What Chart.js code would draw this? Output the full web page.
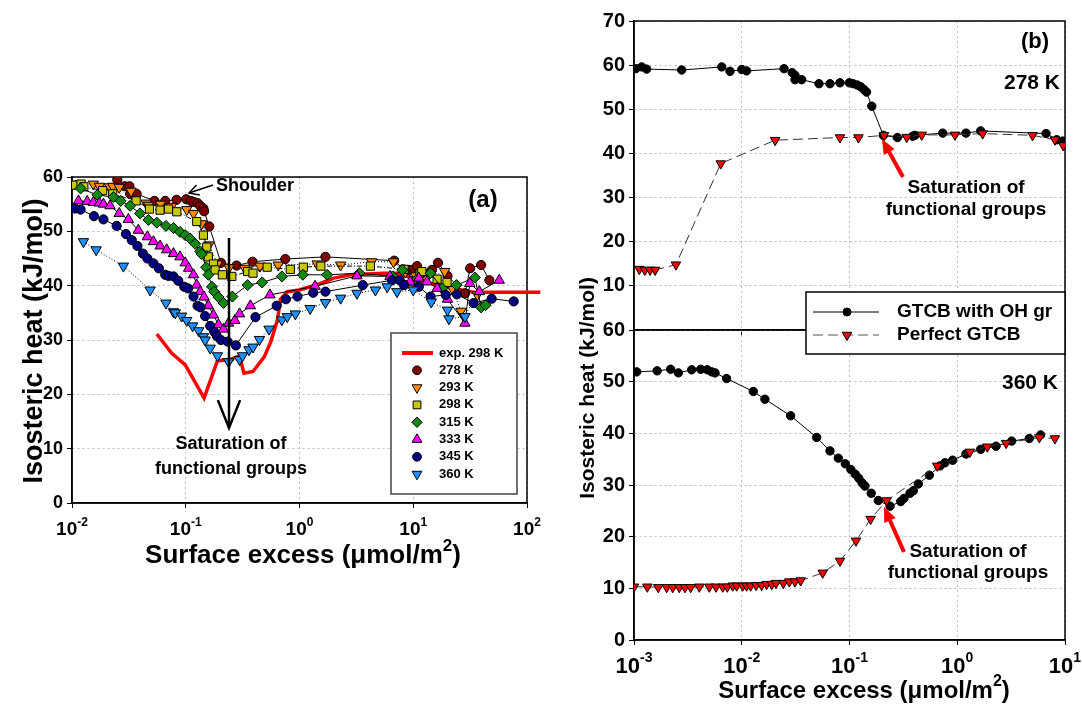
<!DOCTYPE html>
<html>
<head>
<meta charset="utf-8">
<title>Isosteric heat vs surface excess</title>
<script src="https://cdn.jsdelivr.net/npm/chart.js@4.4.1/dist/chart.umd.min.js"></script>
<style>
  body { margin: 0; background: #fff; }
  #wrap { position: relative; width: 1082px; height: 705px; overflow: hidden; }
  canvas { position: absolute; left: 0; top: 0; }
</style>
</head>
<body>
<div id="wrap">
  <canvas id="chartA" width="1082" height="705"></canvas>
  <canvas id="chartB1" width="1082" height="705"></canvas>
  <canvas id="chartB2" width="1082" height="705"></canvas>
</div>
<script>
// Panel (a): surface excess (umol/m2), isosteric heat (kJ/mol)
var exp298 = [[0.0557, 31.1], [0.075, 27.6], [0.099, 25.4], [0.145, 19.3], [0.19, 26.2], [0.238, 26.3], [0.296, 27.1], [0.325, 23.9], [0.39, 24.2], [0.49, 26.9], [0.56, 29.7], [0.64, 33.7], [0.68, 37.5], [0.78, 38.9], [1.0, 39.2], [1.53, 40.4], [2.0, 41.4], [2.8, 42.0], [5.5, 42.3], [7.2, 42.3], [10, 41.3], [15, 40.3], [22, 39.5], [33.9, 38.8], [131, 38.8]];
var s278 = [[0.025, 59.5], [0.029, 58.3], [0.032, 58.3], [0.0324, 56.9], [0.037, 56.9], [0.053, 55.6], [0.066, 55.6], [0.083, 55.8], [0.101, 55.9], [0.111, 55.6], [0.118, 55.4], [0.127, 55.2], [0.134, 54.7], [0.143, 54.2], [0.145, 53.7], [0.161, 50.9], [0.204, 44.2], [0.28, 43.7], [0.386, 44.4], [0.75, 44.9], [1.69, 45.3], [6.8, 44.6], [8.2, 43.0], [9.1, 42.9], [9.8, 42.9], [10.8, 43.6], [12.2, 42.4], [14.6, 42.9], [16.5, 44.2], [20, 41.8], [28.5, 38.6], [31.6, 43.2], [39.5, 43.8], [46.7, 41.0]];
var s293 = [[0.0118, 58.8], [0.0154, 58.7], [0.0174, 58.3], [0.0213, 58.2], [0.0228, 58.3], [0.026, 58.1], [0.033, 57.4], [0.0448, 55.2], [0.047, 54.8], [0.06, 55.0], [0.075, 54.6], [0.102, 54.0], [0.117, 53.3], [0.138, 51.4], [0.16, 47.5], [0.19, 44.0], [0.24, 43.3], [0.33, 43.2], [0.45, 43.6], [0.65, 43.8], [1.43, 44.0], [2.3, 43.8], [4.3, 44.4], [6.7, 44.4], [8.5, 42.5], [10.5, 41.8], [13, 41.3], [18.9, 42.6], [22, 39.5], [26.3, 35.3], [28, 34.3], [36.6, 38.3]];
var s298 = [[0.0103, 58.5], [0.012, 58.7], [0.0127, 58.2], [0.0186, 57.5], [0.0228, 56.9], [0.0366, 55.6], [0.048, 54.1], [0.0595, 53.9], [0.0705, 54.1], [0.0834, 53.6], [0.125, 51.8], [0.143, 49.3], [0.153, 47.1], [0.158, 45.3], [0.175, 44.0], [0.181, 42.9], [0.21, 42.0], [0.254, 41.7], [0.35, 42.6], [0.39, 42.3], [0.52, 43.4], [0.83, 43.0], [1.08, 43.4], [1.54, 43.6], [4.2, 43.6], [8.3, 43.0], [11.5, 42.3], [11.9, 42.6], [16.2, 41.2], [19.8, 40.6]];
var s315 = [[0.0119, 57.9], [0.0167, 56.7], [0.0231, 56.3], [0.0268, 55.6], [0.0324, 54.7], [0.0396, 53.3], [0.047, 52.1], [0.0557, 51.6], [0.067, 51.0], [0.078, 50.6], [0.089, 49.9], [0.0989, 49.3], [0.109, 48.7], [0.121, 47.7], [0.134, 46.3], [0.138, 45.8], [0.151, 43.4], [0.158, 42.0], [0.17, 39.8], [0.178, 38.9], [0.194, 37.9], [0.215, 36.8], [0.257, 38.0], [0.35, 40.1], [0.47, 40.6], [0.70, 41.7], [1.07, 42.0], [1.75, 42.0], [3.36, 42.3], [6.6, 41.7], [8.0, 42.9], [10.5, 41.0], [14.2, 42.3], [18, 39.5], [24, 40.1], [34.8, 41.5], [39.5, 36.0], [43.2, 36.4]];
var s333 = [[0.0114, 55.6], [0.0136, 55.5], [0.0154, 55.3], [0.0174, 55.2], [0.0189, 55.0], [0.0216, 54.7], [0.026, 53.3], [0.0313, 52.2], [0.0383, 50.2], [0.046, 49.0], [0.052, 48.1], [0.0595, 47.3], [0.068, 46.6], [0.078, 45.9], [0.089, 45.3], [0.0989, 44.2], [0.106, 43.2], [0.117, 42.0], [0.125, 40.1], [0.134, 38.9], [0.145, 37.9], [0.158, 36.3], [0.175, 34.6], [0.194, 32.8], [0.215, 32.0], [0.238, 33.1], [0.27, 33.6], [0.297, 34.8], [0.37, 36.3], [0.55, 38.3], [1.37, 39.9], [3.2, 41.8], [6.25, 41.7], [9.4, 40.7], [11.2, 41.4], [13.2, 40.7], [16.2, 39.5], [20, 37.5], [28.5, 33.1], [31.4, 40.4], [38.1, 38.9], [57, 41.0]];
var s345 = [[0.0106, 54.2], [0.0119, 54.0], [0.0156, 52.8], [0.0189, 52.2], [0.0247, 51.0], [0.0298, 49.5], [0.0335, 48.4], [0.0376, 47.3], [0.042, 45.9], [0.046, 45.0], [0.052, 44.1], [0.058, 43.2], [0.066, 42.0], [0.0705, 41.8], [0.078, 41.7], [0.086, 40.9], [0.097, 39.8], [0.105, 39.5], [0.117, 38.0], [0.127, 36.3], [0.135, 36.0], [0.148, 34.4], [0.164, 32.6], [0.178, 31.5], [0.188, 30.7], [0.204, 30.0], [0.234, 29.7], [0.276, 29.0], [0.41, 34.2], [0.63, 36.3], [0.76, 37.5], [0.96, 38.0], [1.32, 38.7], [1.69, 38.9], [3.6, 40.1], [6.5, 41.0], [7.6, 41.0], [8.3, 40.1], [11.2, 39.8], [14.2, 38.0], [19.3, 38.3], [24.2, 38.4], [33.9, 36.8], [48.9, 37.6], [76.4, 37.1]];
var s360 = [[0.0126, 48.1], [0.0163, 46.6], [0.0283, 43.6], [0.0486, 39.2], [0.067, 36.8], [0.078, 35.2], [0.081, 35.0], [0.092, 34.4], [0.102, 33.6], [0.115, 32.6], [0.13, 31.7], [0.143, 30.6], [0.148, 30.0], [0.164, 28.5], [0.19, 27.1], [0.238, 26.0], [0.297, 26.4], [0.316, 27.1], [0.36, 28.2], [0.39, 28.7], [0.445, 30.1], [0.54, 32.0], [0.70, 33.7], [0.78, 34.3], [0.92, 34.8], [1.24, 35.8], [1.69, 36.9], [2.3, 37.7], [3.2, 38.6], [4.65, 39.2], [5.9, 39.8], [7.2, 38.9], [10, 39.2], [14.4, 37.0], [20, 35.5], [20.6, 33.9], [28.5, 34.3]];

// Panel (b): simulation, 278 K (top) and 360 K (bottom)
var oh278 = [[0.00104, 59.2], [0.00118, 59.6], [0.00131, 59.1], [0.00277, 58.9], [0.00652, 59.6], [0.00778, 58.6], [0.01, 59.0], [0.0111, 58.7], [0.0247, 59.2], [0.0294, 58.3], [0.0312, 57.7], [0.0312, 56.7], [0.036, 56.7], [0.0521, 55.8], [0.0659, 55.8], [0.0816, 56.0], [0.0996, 56.0], [0.108, 55.8], [0.118, 55.5], [0.127, 55.1], [0.136, 54.5], [0.144, 53.9], [0.161, 50.7], [0.206, 44.1], [0.278, 43.6], [0.386, 43.9], [0.405, 44.1], [0.733, 44.6], [1.205, 44.6], [1.65, 45.1], [6.67, 44.5], [8.38, 43.1], [9.52, 42.8]];
var perfect278 = [[0.00112, 13.8], [0.00126, 13.6], [0.00141, 13.6], [0.00157, 13.6], [0.00245, 14.8], [0.00638, 37.7], [0.0204, 43.0], [0.0816, 43.6], [0.121, 43.6], [0.209, 44.1], [0.34, 43.7], [0.468, 44.2], [0.953, 44.2], [1.72, 44.5], [5.0, 44.1], [8.07, 43.1], [9.64, 41.8]];
var oh360 = [[0.00106, 51.9], [0.00164, 52.1], [0.00219, 52.4], [0.00258, 51.7], [0.00343, 52.3], [0.00416, 52.4], [0.00479, 52.3], [0.00526, 51.9], [0.00565, 51.7], [0.00724, 50.6], [0.0128, 48.1], [0.0164, 46.6], [0.0284, 43.4], [0.0496, 39.2], [0.0659, 36.6], [0.0787, 35.2], [0.0914, 34.1], [0.103, 33.0], [0.113, 32.1], [0.122, 31.3], [0.131, 30.4], [0.139, 29.8], [0.159, 28.4], [0.185, 27.0], [0.238, 25.9], [0.299, 26.8], [0.32, 27.4], [0.364, 28.4], [0.391, 28.9], [0.435, 30.2], [0.551, 31.9], [0.692, 33.7], [0.769, 34.3], [0.907, 34.8], [1.205, 36.0], [1.65, 36.9], [2.29, 37.5], [3.2, 38.5], [4.66, 39.0], [5.94, 39.7]];
var perfect360 = [[0.001, 10.3], [0.00133, 10.3], [0.00168, 10.2], [0.00201, 10.2], [0.00229, 10.2], [0.00263, 10.2], [0.00297, 10.2], [0.00336, 10.2], [0.00404, 10.3], [0.005, 10.3], [0.00577, 10.3], [0.00666, 10.3], [0.00734, 10.3], [0.00824, 10.5], [0.00898, 10.5], [0.0102, 10.5], [0.0111, 10.5], [0.0121, 10.5], [0.0136, 10.6], [0.0153, 10.6], [0.017, 10.8], [0.019, 10.8], [0.0208, 11.0], [0.0243, 11.0], [0.0276, 11.3], [0.0312, 11.3], [0.0352, 11.5], [0.0564, 13.0], [0.0816, 15.3], [0.115, 19.2], [0.157, 23.4], [0.221, 27.0], [0.653, 33.7], [1.31, 36.4], [1.9, 37.4], [2.84, 38.1], [5.78, 39.2], [8.07, 39.0]];

// Tick labels and legend labels
var decadesA = [0.01, 0.1, 1, 10, 100];
var expA = ['-2', '-1', '0', '1', '2'];
var decadesB = [0.001, 0.01, 0.1, 1, 10];
var expB = ['-3', '-2', '-1', '0', '1'];
var labelsA = ['exp. 298 K', '278 K', '293 K', '298 K', '315 K', '333 K', '345 K', '360 K'];
var labelsB = ['GTCB with OH gr', 'Perfect GTCB'];

var FONT = '"Liberation Sans", Arial, Helvetica, sans-serif';
var GRID = '#bdbdbd';

// marker look for each temperature in panel (a)
var markA = [
  { style: 'circle', rot: 0, r: 4.6, fill: '#800000', dash: [] },
  { style: 'triangle', rot: 180, r: 6, fill: '#ff8c00', dash: [1, 2] },
  { style: 'rect', rot: 0, r: 5.8, fill: '#c8c800', dash: [5, 2, 1, 2] },
  { style: 'rectRot', rot: 0, r: 5.5, fill: '#118811', dash: [] },
  { style: 'triangle', rot: 0, r: 6, fill: '#ff00ff', dash: [] },
  { style: 'circle', rot: 0, r: 4.6, fill: '#000080', dash: [] },
  { style: 'triangle', rot: 180, r: 6, fill: '#1e90ff', dash: [1, 2] }
];
var seriesA = [s278, s293, s298, s315, s333, s345, s360];

Chart.defaults.font.family = FONT;
Chart.defaults.color = '#000';

function pts(arr) {
  return arr.map(function (p) { return { x: p[0], y: p[1] }; });
}

function logAxis(min, max, decades, height) {
  return {
    type: 'logarithmic',
    min: min,
    max: max,
    afterBuildTicks: function (scale) {
      scale.ticks = decades.map(function (v) { return { value: v }; });
    },
    afterFit: function (scale) { scale.height = height; },
    ticks: { display: false },
    grid: { color: GRID, lineWidth: 1, tickColor: '#000', tickLength: 5, tickBorderDash: [] },
    border: { color: '#000', width: 1.5, dash: [2, 3] }
  };
}

function linAxis(min, max, width, size, hideZero) {
  return {
    min: min,
    max: max,
    afterFit: function (scale) { scale.width = width; },
    ticks: {
      stepSize: 10,
      padding: 4,
      color: '#000',
      font: { size: size, weight: 'bold' },
      callback: function (v) { return hideZero && v === 0 ? '' : v; }
    },
    grid: { color: GRID, lineWidth: 1, tickColor: '#000', tickLength: 5, tickBorderDash: [] },
    border: { color: '#000', width: 1.5, dash: [2, 3] }
  };
}

// small drawing helpers
function frame(chart) {
  var a = chart.chartArea, ctx = chart.ctx;
  ctx.save();
  ctx.strokeStyle = '#000';
  ctx.lineWidth = 1.5;
  ctx.strokeRect(a.left, a.top, a.right - a.left, a.bottom - a.top);
  ctx.restore();
}

function text(ctx, s, x, y, size, align) {
  ctx.font = 'bold ' + size + 'px ' + FONT;
  ctx.textAlign = align || 'center';
  ctx.textBaseline = 'middle';
  ctx.fillStyle = '#000';
  ctx.fillText(s, x, y);
}

function vtext(ctx, s, x, y, size) {
  ctx.save();
  ctx.translate(x, y);
  ctx.rotate(-Math.PI / 2);
  text(ctx, s, 0, 0, size);
  ctx.restore();
}

// text with superscript parts, centred on x
function rich(ctx, parts, x, y, size) {
  var small = Math.round(size * 0.65);
  var widths = parts.map(function (p) {
    ctx.font = 'bold ' + (p[1] ? small : size) + 'px ' + FONT;
    return ctx.measureText(p[0]).width;
  });
  var total = widths.reduce(function (s, w) { return s + w; }, 0);
  var cx = x - total / 2;
  ctx.fillStyle = '#000';
  ctx.textAlign = 'left';
  ctx.textBaseline = 'middle';
  parts.forEach(function (p, i) {
    ctx.font = 'bold ' + (p[1] ? small : size) + 'px ' + FONT;
    ctx.fillText(p[0], cx, p[1] ? y - size * 0.38 : y);
    cx += widths[i];
  });
}

function powLabels(chart, decades, exps, y, size) {
  var sc = chart.scales.x;
  decades.forEach(function (v, i) {
    rich(chart.ctx, [['10', 0], [exps[i], 1]], sc.getPixelForValue(v), y, size);
  });
}

function arrow(ctx, x1, y1, x2, y2, color, width, head, spread, filled) {
  var a = Math.atan2(y2 - y1, x2 - x1);
  var lx = x2 - head * Math.cos(a - spread), ly = y2 - head * Math.sin(a - spread);
  var rx = x2 - head * Math.cos(a + spread), ry = y2 - head * Math.sin(a + spread);
  ctx.save();
  ctx.strokeStyle = color;
  ctx.fillStyle = color;
  ctx.lineWidth = width;
  ctx.beginPath();
  ctx.moveTo(x1, y1);
  if (filled) ctx.lineTo(x2 - head * 0.8 * Math.cos(a), y2 - head * 0.8 * Math.sin(a));
  else ctx.lineTo(x2, y2);
  ctx.stroke();
  ctx.beginPath();
  ctx.moveTo(lx, ly);
  ctx.lineTo(x2, y2);
  ctx.lineTo(rx, ry);
  if (filled) { ctx.closePath(); ctx.fill(); } else ctx.stroke();
  ctx.restore();
}

function marker(ctx, m, x, y) {
  var r = m.r;
  ctx.save();
  ctx.fillStyle = m.fill;
  ctx.strokeStyle = '#000';
  ctx.lineWidth = 1;
  ctx.beginPath();
  if (m.style === 'circle') {
    ctx.arc(x, y, r, 0, Math.PI * 2);
  } else if (m.style === 'rect') {
    var h = r * Math.SQRT1_2;
    ctx.rect(x - h, y - h, 2 * h, 2 * h);
  } else if (m.style === 'rectRot') {
    ctx.moveTo(x, y - r); ctx.lineTo(x + r, y); ctx.lineTo(x, y + r); ctx.lineTo(x - r, y);
    ctx.closePath();
  } else {
    var a = m.rot * Math.PI / 180;
    for (var k = 0; k < 3; k++) {
      var px = x + Math.sin(a) * r, py = y - Math.cos(a) * r;
      if (k) ctx.lineTo(px, py); else ctx.moveTo(px, py);
      a += 2 * Math.PI / 3;
    }
    ctx.closePath();
  }
  ctx.fill();
  ctx.stroke();
  ctx.restore();
}

function legendA(ctx) {
  ctx.save();
  ctx.fillStyle = '#fff';
  ctx.fillRect(391, 333, 126, 161);
  ctx.strokeStyle = '#444';
  ctx.lineWidth = 1.5;
  ctx.strokeRect(391, 333, 126, 161);
  ctx.restore();
  labelsA.forEach(function (lab, i) {
    var y = 353 + i * 17.3;
    if (i === 0) {
      ctx.save();
      ctx.strokeStyle = '#ff0000';
      ctx.lineWidth = 4;
      ctx.beginPath();
      ctx.moveTo(402, y); ctx.lineTo(433, y);
      ctx.stroke();
      ctx.restore();
    } else {
      var m = markA[i - 1];
      marker(ctx, { style: m.style, rot: m.rot, r: m.r * 0.95, fill: m.fill }, 417, y);
    }
    text(ctx, lab, 439, y, 13, 'left');
  });
}

function legendB(ctx) {
  ctx.save();
  ctx.fillStyle = '#fff';
  ctx.fillRect(806, 292, 259, 62);
  ctx.strokeStyle = '#000';
  ctx.lineWidth = 1.5;
  ctx.strokeRect(806, 292, 259, 62);
  ctx.lineWidth = 1;
  ctx.strokeStyle = '#000';
  ctx.beginPath();
  ctx.moveTo(813, 312); ctx.lineTo(879, 312);
  ctx.stroke();
  ctx.strokeStyle = '#555';
  ctx.setLineDash([10, 5]);
  ctx.beginPath();
  ctx.moveTo(813, 335); ctx.lineTo(879, 335);
  ctx.stroke();
  ctx.restore();
  marker(ctx, { style: 'circle', rot: 0, r: 4, fill: '#000' }, 847, 312);
  marker(ctx, { style: 'triangle', rot: 180, r: 5.5, fill: '#ff0000' }, 847, 335);
  text(ctx, labelsB[0], 897, 312, 19, 'left');
  text(ctx, labelsB[1], 897, 335, 19, 'left');
}

// Panel (a) annotations
var decorA = {
  id: 'decorA',
  beforeDatasetsDraw: function (chart) { frame(chart); },
  afterDraw: function (chart) {
    var ctx = chart.ctx;
    powLabels(chart, decadesA, expA, 530, 19);
    rich(ctx, [['Surface excess (\u03bcmol/m', 0], ['2', 1], [')', 0]], 303, 556, 26);
    vtext(ctx, 'Isosteric heat (kJ/mol)', 35, 341, 27);
    text(ctx, '(a)', 483, 200, 24);
    text(ctx, 'Shoulder', 216, 186, 18, 'left');
    arrow(ctx, 213, 185, 189, 193, '#000', 1.5, 11, 0.5, false);
    arrow(ctx, 229, 238, 229, 428, '#000', 2.5, 30, 0.38, false);
    text(ctx, 'Saturation of', 231, 444, 18);
    text(ctx, 'functional groups', 231, 469, 18);
    legendA(ctx);
  }
};

// Panel (b) annotations
var decorB1 = {
  id: 'decorB1',
  beforeDatasetsDraw: function (chart) { frame(chart); },
  afterDraw: function (chart) {
    var ctx = chart.ctx;
    text(ctx, '(b)', 1035, 42, 22);
    text(ctx, '278 K', 1060, 83, 21, 'right');
    arrow(ctx, 903, 177, 882, 139, '#ff0000', 4, 16, 0.4, true);
    text(ctx, 'Saturation of', 966, 188, 19);
    text(ctx, 'functional groups', 966, 210, 19);
  }
};

var decorB2 = {
  id: 'decorB2',
  beforeDatasetsDraw: function (chart) { frame(chart); },
  afterDraw: function (chart) {
    var ctx = chart.ctx;
    powLabels(chart, decadesB, expB, 667, 22);
    rich(ctx, [['Surface excess (\u03bcmol/m', 0], ['2', 1], [')', 0]], 864, 691, 24);
    vtext(ctx, 'Isosteric heat (kJ/mol)', 588, 388, 21);
    text(ctx, '360 K', 1058, 383, 21, 'right');
    arrow(ctx, 904, 552, 884, 507, '#ff0000', 4, 16, 0.4, true);
    text(ctx, 'Saturation of', 968, 552, 19);
    text(ctx, 'functional groups', 968, 573, 19);
    legendB(ctx);
  }
};

var common = {
  responsive: false,
  animation: false,
  devicePixelRatio: 1,
  events: [],
  plugins: { legend: { display: false }, tooltip: { enabled: false } }
};

function opts(padding, x, y) {
  return Object.assign({}, common, { layout: { padding: padding }, scales: { x: x, y: y } });
}

// Panel (a) chart
var dataA = [{
  label: labelsA[0],
  data: pts(exp298),
  showLine: true,
  borderColor: '#ff0000',
  borderWidth: 3.5,
  pointRadius: 0,
  clip: false,
  order: 100
}];
seriesA.forEach(function (s, i) {
  var m = markA[i];
  dataA.push({
    label: labelsA[i + 1],
    data: pts(s),
    showLine: true,
    borderColor: '#000',
    borderWidth: 1,
    borderDash: m.dash,
    pointStyle: m.style,
    pointRotation: m.rot,
    pointRadius: m.r,
    pointBackgroundColor: m.fill,
    pointBorderColor: '#000',
    pointBorderWidth: 1,
    order: 20 - i
  });
});

new Chart(document.getElementById('chartA'), {
  type: 'scatter',
  data: { datasets: dataA },
  options: opts({ left: 0, top: 177, right: 555, bottom: 162 },
    logAxis(0.01, 100, decadesA, 40),
    linAxis(0, 60, 72, 18, false)),
  plugins: [decorA]
});

// Panel (b) charts
function ohSet(arr) {
  return {
    label: labelsB[0], data: pts(arr), showLine: true,
    borderColor: '#000', borderWidth: 1,
    pointStyle: 'circle', pointRadius: 4.2,
    pointBackgroundColor: '#000', pointBorderColor: '#000', order: 1
  };
}
function perfectSet(arr) {
  return {
    label: labelsB[1], data: pts(arr), showLine: true,
    borderColor: '#333', borderWidth: 1, borderDash: [10, 5],
    pointStyle: 'triangle', pointRotation: 180, pointRadius: 5.5,
    pointBackgroundColor: '#ff0000', pointBorderColor: '#000', pointBorderWidth: 1, order: 0
  };
}

new Chart(document.getElementById('chartB1'), {
  type: 'scatter',
  data: { datasets: [ohSet(oh278), perfectSet(perfect278)] },
  options: opts({ left: 0, top: 21, right: 17, bottom: 369 },
    logAxis(0.001, 10, decadesB, 6),
    linAxis(0, 70, 634, 20, true)),
  plugins: [decorB1]
});

new Chart(document.getElementById('chartB2'), {
  type: 'scatter',
  data: { datasets: [ohSet(oh360), perfectSet(perfect360)] },
  options: opts({ left: 0, top: 330, right: 17, bottom: 25 },
    logAxis(0.001, 10, decadesB, 40),
    linAxis(0, 60, 634, 20, false)),
  plugins: [decorB2]
});
</script>
</body>
</html>
